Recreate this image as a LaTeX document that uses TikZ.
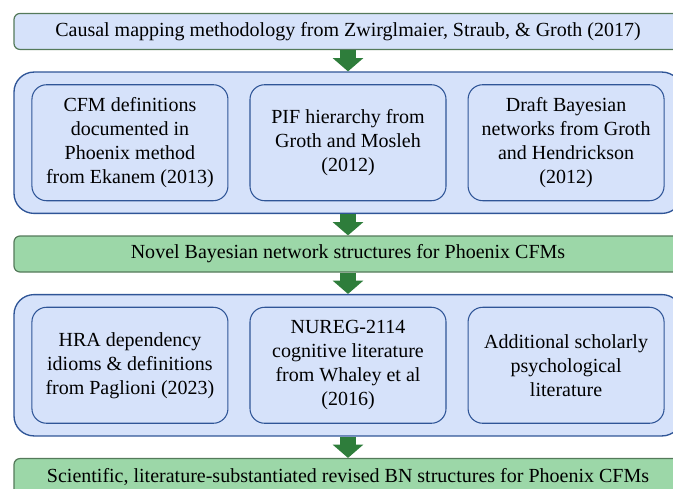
\documentclass[tikz,border=0pt]{standalone}
\usepackage{fontspec}
\setmainfont{Liberation Serif}
\usepackage{tikz}
\usetikzlibrary{positioning,arrows.meta}

\definecolor{paleblue}{RGB}{214,226,250}
\definecolor{edgeblue}{RGB}{47,85,151}
\definecolor{palegreen}{RGB}{156,215,168}
\definecolor{edgegreen}{RGB}{84,122,90}
\definecolor{arrowgreen}{RGB}{46,125,59}

\begin{document}
\begin{tikzpicture}[
    node distance=16pt,
    font=\fontsize{15pt}{18pt}\selectfont,
    banner/.style={rectangle, draw=edgegreen, line width=0.9pt, rounded corners=4.5pt, minimum width=501pt, minimum height=27pt, inner sep=0pt},
    source/.style={banner, fill=paleblue},
    result/.style={banner, fill=palegreen},
    stage/.style={rectangle, draw=edgeblue, fill=paleblue, line width=1pt, rounded corners=15pt, minimum width=501pt, minimum height=106pt, inner sep=0pt},
    ref/.style={rectangle, draw=edgeblue, fill=paleblue, line width=0.8pt, rounded corners=11pt, minimum width=147pt, minimum height=87pt, align=center, inner sep=0pt},
    flow/.style={draw=arrowgreen, line width=12pt, -{Triangle[width=22.5pt, length=10pt]}}
]
    \useasboundingbox (0,0) rectangle (504.75pt,-366pt);
    \clip (0,0) rectangle (504.75pt,-366pt);

    % first stage
    \node [source] (method) at (261pt,-23.6pt) {Causal mapping methodology from Zwirglmaier, Straub, \& Groth (2017)};
    \node [stage, below=of method] (inputs) {};
    \node [ref] (pif) at (inputs) {PIF hierarchy from\\Groth and Mosleh\\(2012)};
    \node [ref, left=15.75pt of pif] (cfm) {CFM definitions\\documented in\\Phoenix method\\from Ekanem (2013)};
    \node [ref, right=15.75pt of pif] (draft) {Draft Bayesian\\networks from Groth\\and Hendrickson\\(2012)};
    \node [result, below=of inputs] (novel) {Novel Bayesian network structures for Phoenix CFMs};

    % second stage
    \node [stage, below=of novel] (evidence) {};
    \node [ref] (nureg) at (evidence) {NUREG-2114\\cognitive literature\\from Whaley et al\\(2016)};
    \node [ref, left=15.75pt of nureg] (hra) {HRA dependency\\idioms \& definitions\\from Paglioni (2023)};
    \node [ref, right=15.75pt of nureg] (psych) {Additional scholarly\\psychological\\literature};
    \node [result, below=of evidence] (revised) {Scientific, literature-substantiated revised BN structures for Phoenix CFMs};

    \draw [flow] (method) -- (inputs);
    \draw [flow] (inputs) -- (novel);
    \draw [flow] (novel) -- (evidence);
    \draw [flow] (evidence) -- (revised);
\end{tikzpicture}
\end{document}
